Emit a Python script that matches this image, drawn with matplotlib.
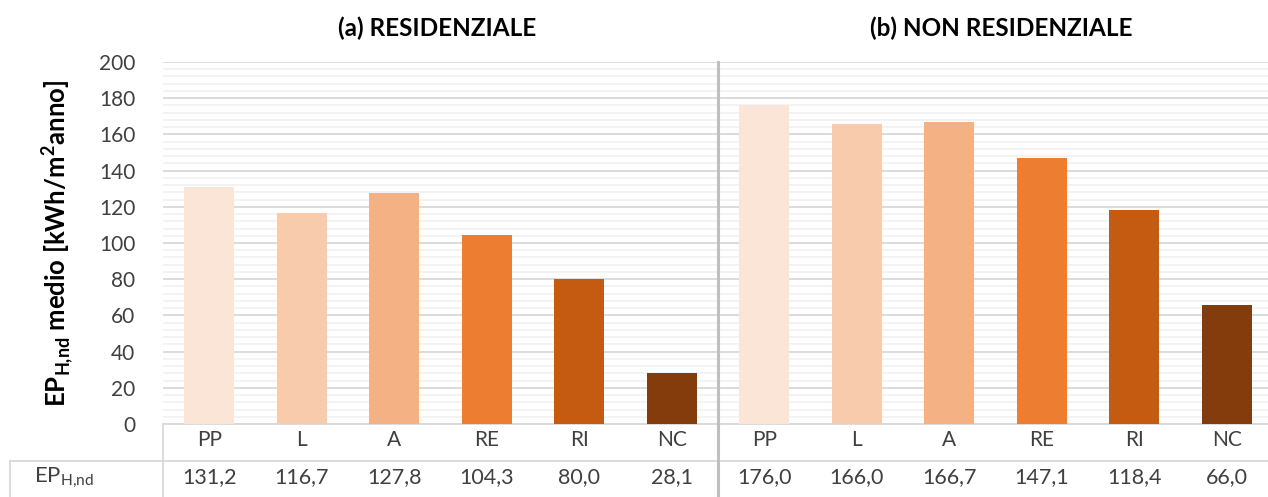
import matplotlib
matplotlib.use("Agg")
import matplotlib.pyplot as plt
from matplotlib.lines import Line2D
import matplotlib.transforms as mtransforms
import numpy as np

plt.rcParams['font.family'] = ['Lato', 'DejaVu Sans']
plt.rcParams['mathtext.fontset'] = 'custom'
plt.rcParams['mathtext.rm'] = 'Lato'
plt.rcParams['mathtext.bf'] = 'Lato:bold'

categories = ["PP", "L", "A", "RE", "RI", "NC"]
residenziale = [131.2, 116.7, 127.8, 104.3, 80.0, 28.1]
non_residenziale = [176.0, 166.0, 166.7, 147.1, 118.4, 66.0]
colors = ["#FBE5D6", "#F8CBAD", "#F4B183", "#ED7D31", "#C55A11", "#843C0C"]
titles = ["(a) RESIDENZIALE", "(b) NON RESIDENZIALE"]
row_label = "EP$_{\\mathregular{H{,}nd}}$"
ylabel = "EP$_{\\mathbf{H{,}nd}}$ medio [kWh/m$^{\\mathbf{2}}$anno]"

W, H = 1268, 497
fig = plt.figure(figsize=(W / 100, H / 100), dpi=100)

def fx(px):
    return px / W

def fy(py):
    return 1 - py / H

x0, x1 = 163, 1273
y0, y1 = 424, 62
ax = fig.add_axes([fx(x0), fy(y0), fx(x1 - x0), fy(y1) - fy(y0)])

values = residenziale + non_residenziale
cols = colors + colors
labels = categories + categories
xs = np.arange(len(values))
ax.bar(xs, values, width=0.54, color=cols, zorder=3)
ax.set_xlim(-0.5, len(values) - 0.5)
ax.set_ylim(0, 200)
ax.set_yticks(np.arange(0, 201, 20))
ax.set_yticks(np.arange(0, 201, 4), minor=True)
ax.grid(axis='y', which='major', color='#D9D9D9', lw=1.3, zorder=0)
ax.grid(axis='y', which='minor', color='#F0F0F0', lw=1.1, zorder=0)
ax.tick_params(axis='y', which='both', length=0, labelsize=15, pad=20, colors='#404040')
ax.tick_params(axis='x', length=0)
ax.set_xticks([])
for s in ['top', 'right', 'left']:
    ax.spines[s].set_visible(False)
ax.spines['bottom'].set_color('#D9D9D9')
ax.spines['bottom'].set_linewidth(1.3)

blend = mtransforms.blended_transform_factory(ax.transData, fig.transFigure)
for xi, lab, v in zip(xs, labels, values):
    ax.text(xi, fy(440), lab, transform=blend, ha='center', va='center',
            fontsize=15, color='#404040', clip_on=False)
    ax.text(xi, fy(477), f"{v:.1f}".replace('.', ','), transform=blend,
            ha='center', va='center', fontsize=15.5, color='#404040', clip_on=False)

fig.text(fx(64), fy(478), row_label, ha='center', va='center', fontsize=16, color='#404040')

# table lines
lc = '#D9D9D9'
fig.add_artist(Line2D([fx(10), 1], [fy(461), fy(461)], color=lc, lw=1.3))
fig.add_artist(Line2D([fx(163), fx(163)], [fy(424), 0], color=lc, lw=1.3))
fig.add_artist(Line2D([fx(10), fx(10)], [fy(461), 0], color=lc, lw=1.3))
# divider
xdiv = ax.transData.transform((5.5, 0))[0] / W
fig.add_artist(Line2D([xdiv, xdiv], [fy(62), 0], color='#BFBFBF', lw=2.2))

# titles
fig.text(fx(437), fy(28), titles[0], ha='center', va='center', fontsize=17.5, fontweight='bold', color='black')
fig.text(fx(1001), fy(28), titles[1], ha='center', va='center', fontsize=17.5, fontweight='bold', color='black')

fig.text(fx(58), fy(243), ylabel, ha='center', va='center', rotation=90, fontsize=18.5, fontweight='bold', color='black')

fig.savefig("out.png", dpi=100)
